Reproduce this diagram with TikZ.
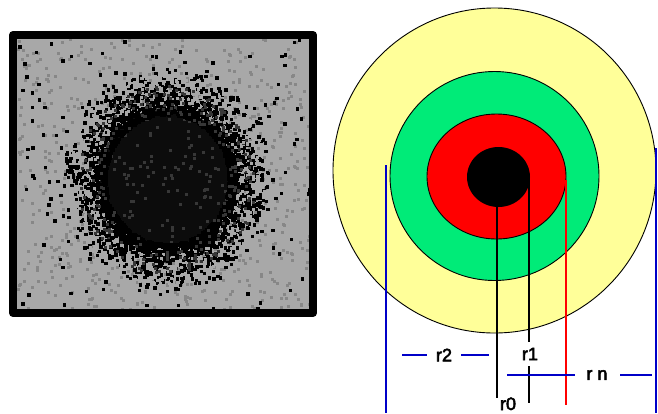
\documentclass[tikz,border=0pt]{standalone}
\usepackage{fontspec}
\setmainfont{Liberation Sans}
\newfontfamily\lblfont{Liberation Sans}[FakeBold=3]
\definecolor{ring3}{RGB}{255,255,153}
\definecolor{ring2}{RGB}{0,235,120}
\definecolor{ring1}{RGB}{255,0,0}
\definecolor{dimblue}{RGB}{0,0,200}
\definecolor{bggray}{RGB}{168,168,168}
\definecolor{midgray}{RGB}{135,135,135}
\definecolor{coregray}{RGB}{12,12,12}
\definecolor{mottle}{RGB}{55,55,55}
\tikzset{
  ringline/.style={draw=black, line width=0.9pt},
  blueline/.style={draw=dimblue, line width=2.8pt},
  blackline/.style={draw=black, line width=2.8pt},
  redline/.style={draw=ring1, line width=2.2pt},
  lbl/.style={font=\lblfont\fontsize{18}{18}\selectfont, inner sep=0pt}
}
\begin{document}
\begin{tikzpicture}[x=1pt,y=-1pt]
\useasboundingbox (0,0) rectangle (658,413);
% ---------- left picture ----------
\begin{scope}
\clip (13,35) rectangle (313,313);
\fill[bggray] (13,35) rectangle (313,313);
\pgfmathsetseed{4711}
% mottled background
\foreach \i in {1,...,700}{
  \pgfmathsetmacro\px{16+294*rnd}
  \pgfmathsetmacro\py{38+272*rnd}
  \fill[midgray] (\px,\py) rectangle ++(3,3);
}
% sparse black specks
\foreach \i in {1,...,170}{
  \pgfmathsetmacro\px{16+294*rnd}
  \pgfmathsetmacro\py{38+272*rnd}
  \fill[black] (\px,\py) rectangle ++(3.5,3.5);
}
% blob core
\fill[coregray] (166,178) ellipse [x radius=66pt, y radius=70pt];
\foreach \i in {1,...,200}{
  \pgfmathsetmacro\ang{360*rnd}
  \pgfmathsetmacro\rr{1.2*sqrt(rnd)}
  \pgfmathsetmacro\px{166+72*\rr*cos(\ang)}
  \pgfmathsetmacro\py{178+76*\rr*sin(\ang)}
  \fill[mottle] (\px,\py) rectangle ++(3,3);
}
% fuzzy edge
\foreach \i in {1,...,2600}{
  \pgfmathsetmacro\ang{360*rnd}
  \pgfmathsetmacro\rr{0.85+0.7*rnd*rnd}
  \pgfmathsetmacro\px{166+72*\rr*cos(\ang)}
  \pgfmathsetmacro\py{178+76*\rr*sin(\ang)}
  \fill[black] (\px,\py) rectangle ++(3.4,3.4);
}
\foreach \i in {1,...,250}{
  \pgfmathsetmacro\ang{360*rnd}
  \pgfmathsetmacro\rr{1.0+0.4*rnd}
  \pgfmathsetmacro\px{166+72*\rr*cos(\ang)}
  \pgfmathsetmacro\py{178+76*\rr*sin(\ang)}
  \fill[bggray] (\px,\py) rectangle ++(3,3);
}
\foreach \i in {1,...,250}{
  \pgfmathsetmacro\ang{360*rnd}
  \pgfmathsetmacro\rr{0.85+0.4*rnd}
  \pgfmathsetmacro\px{166+72*\rr*cos(\ang)}
  \pgfmathsetmacro\py{178+76*\rr*sin(\ang)}
  \fill[mottle] (\px,\py) rectangle ++(3,3);
}
\end{scope}
\draw[line width=8pt, line join=round] (13,35) rectangle (313,313);
% ---------- rings ----------
\filldraw[ringline, fill=ring3] (494.5,170.5) ellipse [x radius=161.5pt, y radius=162.5pt];
\filldraw[ringline, fill=ring2] (494.5,176) ellipse [x radius=104.5pt, y radius=104.5pt];
\filldraw[ringline, fill=ring1] (496.5,176.5) ellipse [x radius=69.5pt, y radius=62.5pt];
\fill[black] (498.5,177) ellipse [x radius=31.5pt, y radius=30pt];
% ---------- dimension lines ----------
\coordinate (bl1) at (386,165);
\coordinate (bl2) at (386,413);
\coordinate (br1) at (656,148);
\coordinate (br2) at (656,413);
\draw[blueline] (bl1) -- (bl2);
\draw[blueline] (br1) -- (br2);
\draw[blackline] (497,207) coordinate (k0a) -- (497,398) coordinate (k0b);
\draw[blackline] (529,180) coordinate (k1a) -- (529,342) coordinate (k1b);
\draw[blackline] (529,366) coordinate (k1c) -- (529,403) coordinate (k1d);
\draw[redline] (566,180) coordinate (ra) -- (566,405) coordinate (rb);
% r2
\node[lbl] (r2) at (444,355) {r2};
\coordinate (r2a) at (402,355);
\coordinate (r2b) at (489,355);
\draw[blueline] (r2a) -- (427,355);
\draw[blueline] (461,355) -- (r2b);
% rn
\node[lbl] (rn) at (597,375) {r n};
\coordinate (rna) at (507,375);
\coordinate (rnb) at (652,375);
\draw[blueline] (rna) -- (575,375);
\draw[blueline] (620,375) -- (rnb);
% r1, r0
\node[lbl] (r1) at (530,354) {r1};
\node[lbl, anchor=base] (r0) at (508,410) {r0};
\end{tikzpicture}
\end{document}
